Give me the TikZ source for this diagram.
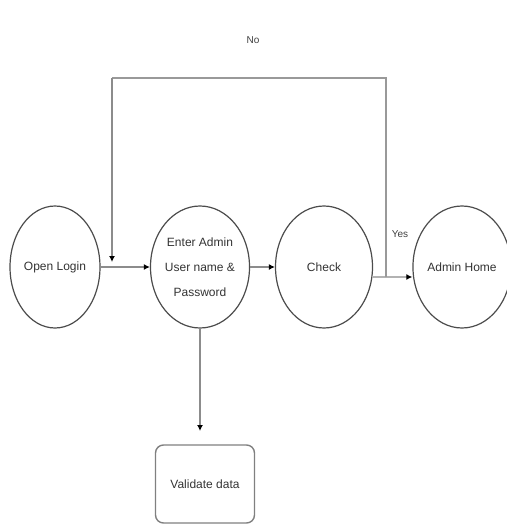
\documentclass[tikz,border=0pt]{standalone}
\usepackage{fontspec}
\setmainfont{Liberation Sans}
\usetikzlibrary{shapes.geometric,arrows.meta,positioning,calc}
\begin{document}
\begin{tikzpicture}[x=1pt,y=-1pt,
  proc/.style={ellipse,draw=black!70,line width=1.2pt,minimum width=90pt,minimum height=122pt,inner sep=0pt,font=\fontsize{12}{25}\selectfont,align=center,text=black!80},
  boxnode/.style={rectangle,rounded corners=8pt,draw=black!50,line width=1.4pt,minimum width=99pt,minimum height=78pt,font=\fontsize{12}{14}\selectfont,text=black!80},
  conn/.style={draw=black!45,line width=1.6pt},
  arr/.style={conn,-{Latex[length=6pt,width=6pt,black]}},
  lbl/.style={font=\fontsize{10}{12}\selectfont,text=black!75}]
\useasboundingbox (0,0) rectangle (506,527);
\node[proc] (open) at (55,267) {Open Login};
\node[proc] (enter) at (200,267) {Enter Admin\\User name \&\\Password};
\node[proc,minimum width=97pt] (check) at (324,267) {Check};
\node[proc,minimum width=88pt] (home) at (462,267) {Admin Home};
\node[boxnode] (valid) at (205,484) {Validate data};
\coordinate (cy) at (372,277);
\coordinate (j) at (386,277);
\coordinate (tr) at (386,78);
\coordinate (tl) at (112,78);
\coordinate (k) at (112,262);
\coordinate (vt) at (200,431);
\draw[arr] (open.east) -- (enter.west);
\draw[arr] (enter.east) -- (check.west);
\draw[arr,line width=2.4pt,draw=black!30] (cy) -- (home.west |- cy);
\draw[conn,line width=2pt,draw=black!40] (j) -- (tr) -- (tl);
\draw[arr] (tl) -- (k);
\draw[arr] (enter.south) -- (vt);
\node[lbl] (no) at (253,40) {No};
\node[lbl] (yes) at (400,234) {Yes};
\end{tikzpicture}
\end{document}
